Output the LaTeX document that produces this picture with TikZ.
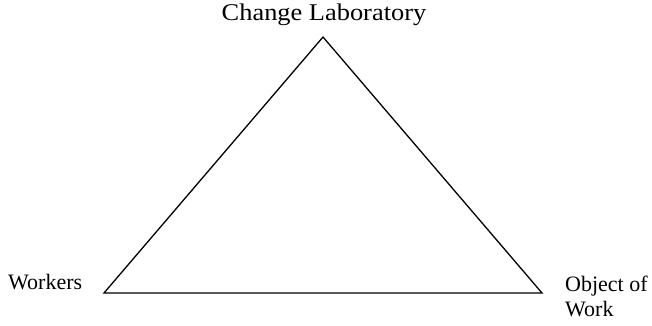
\documentclass[tikz,border=0pt]{standalone}
\usepackage{fontspec}
\setmainfont{Liberation Serif}
\begin{document}
\begin{tikzpicture}[x=1pt,y=-1pt,
  edge/.style={draw=black,line width=1.3pt,line join=miter},
  lbl/.style={inner sep=0pt,font=\fontsize{22}{25}\selectfont}]
\useasboundingbox (0,0) rectangle (652,326);
\coordinate (top) at (323,37);
\coordinate (left) at (104,293);
\coordinate (right) at (542,293);
\draw[edge] (top) -- (left) -- (right) -- cycle;
\node[lbl,font=\fontsize{24}{28}\selectfont,anchor=base] (cl) at (324,21) {\scalebox{1.1}[1]{Change Laboratory}};
\node[lbl,anchor=base west] (w) at (8,289) {Workers};
\node[lbl,anchor=base west,align=left] (ow) at (565,316) {Object of\\Work};
\end{tikzpicture}
\end{document}
